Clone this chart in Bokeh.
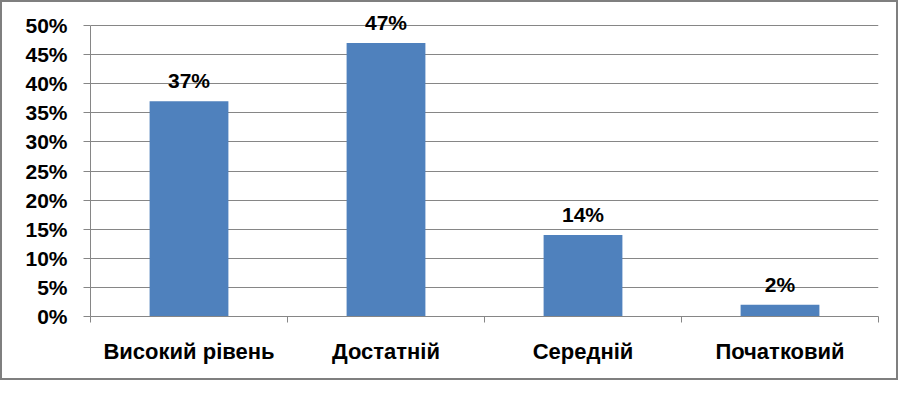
from bokeh.plotting import figure
from bokeh.models import ColumnDataSource, FixedTicker, PrintfTickFormatter, LabelSet, Range1d
from bokeh.core.properties import value
from bokeh.embed import file_html
from bokeh.resources import INLINE

categories = ["Високий рівень", "Достатній", "Середній", "Початковий"]
values = [37, 47, 14, 2]
y_ticks = [0, 5, 10, 15, 20, 25, 30, 35, 40, 45, 50]

FONT = "Liberation Sans"
GRAY = "#868686"

x = [i + 0.5 for i in range(len(categories))]
labels = [f"{v}%" for v in values]
src = ColumnDataSource(dict(x=x, top=values, label=labels))

# frame: 50% line at 23px from top, 0% at 314px; extra headroom for labels
y_top = 50 * (314 - 3) / (314 - 23)
p = figure(width=898, height=380, output_backend="svg", toolbar_location=None,
           x_range=Range1d(0, len(categories)), y_range=Range1d(0, y_top),
           min_border_left=88, min_border_right=22, min_border_top=3, min_border_bottom=66)
p.styles = {"border": "2px solid #7f7f7f", "box-sizing": "border-box"}
p.outline_line_color = None
p.background_fill_color = "white"
p.border_fill_color = "white"

p.vbar(x="x", top="top", width=0.4, source=src, fill_color="#4F81BD", line_color=None)

p.add_layout(LabelSet(x="x", y="top", text="label", source=src, y_offset=9,
                      text_align="center", text_baseline="bottom",
                      text_font=value(FONT), text_font_size="21px",
                      text_font_style="bold", text_color="black"))

# y axis
ya = p.yaxis[0]
ya.ticker = FixedTicker(ticks=y_ticks)
ya.bounds = (0, 50)
ya.formatter = PrintfTickFormatter(format="%d%%")
ya.axis_line_color = GRAY
ya.major_tick_line_color = GRAY
ya.major_tick_out = 7
ya.major_tick_in = 0
ya.minor_tick_line_color = None
ya.major_label_standoff = 16
ya.major_label_text_font = FONT
ya.major_label_text_font_size = "21px"
ya.major_label_text_font_style = "bold"
ya.major_label_text_color = "black"

# x axis
xa = p.xaxis[0]
xa.ticker = FixedTicker(ticks=x, minor_ticks=list(range(len(categories) + 1)))
xa.major_label_overrides = {xv: c for xv, c in zip(x, categories)}
xa.axis_line_color = GRAY
xa.major_tick_line_color = None
xa.minor_tick_line_color = GRAY
xa.minor_tick_out = 6
xa.minor_tick_in = 0
xa.major_label_standoff = 16
xa.major_label_text_font = FONT
xa.major_label_text_font_size = "22px"
xa.major_label_text_font_style = "bold"
xa.major_label_text_color = "black"

p.xgrid.visible = False
p.ygrid.grid_line_color = GRAY
p.ygrid.grid_line_width = 1
p.ygrid.bounds = (0, 50)

open("out.html", "w").write(file_html(p, INLINE))
